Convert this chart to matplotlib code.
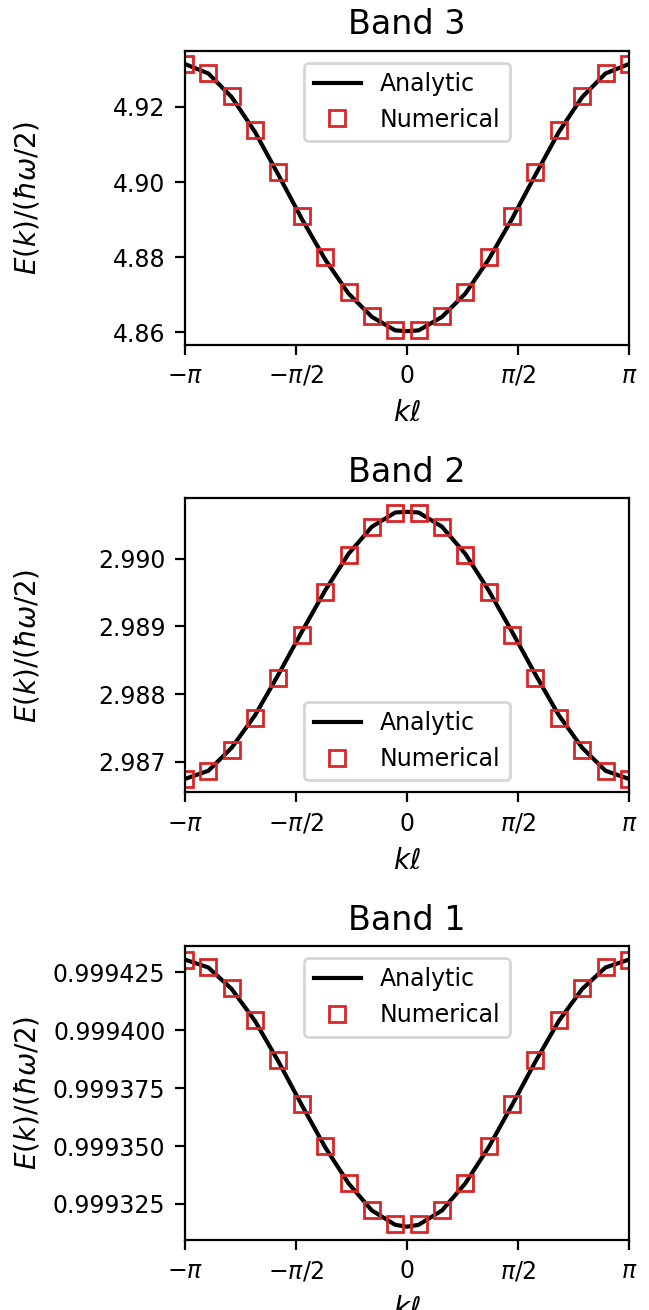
import numpy as np
import matplotlib.pyplot as plt

# k*l sample positions of the numerical points (20 points across the zone)
k_num = np.pi * np.array([-19, -17, -15, -13, -11, -9, -7, -5, -3, -1,
                          1, 3, 5, 7, 9, 11, 13, 15, 17, 19]) / 19
# analytic curve drawn through the same positions plus k=0
k_ana = np.pi * np.array([-19, -17, -15, -13, -11, -9, -7, -5, -3, -1, 0,
                          1, 3, 5, 7, 9, 11, 13, 15, 17, 19]) / 19

# Band 3 (left half mirrored)
half3_num = [4.9314, 4.9291, 4.9230, 4.9139, 4.9026, 4.8909, 4.8800, 4.8707, 4.8643, 4.8606]
half3_ana = [4.9314, 4.9289, 4.9226, 4.9133, 4.9019, 4.8902, 4.8794, 4.8703, 4.8641, 4.8605]
mid3_ana = 4.8603

# Band 2
half2_num = [2.98675, 2.98686, 2.98718, 2.98765, 2.98824, 2.98888, 2.98950, 2.99005, 2.99046, 2.99067]
half2_ana = [2.98675, 2.98687, 2.98721, 2.98769, 2.98829, 2.98892, 2.98953, 2.99007, 2.99047, 2.99068]
mid2_ana = 2.99069

# Band 1
half1_num = [0.9994305, 0.9994273, 0.9994182, 0.9994046, 0.9993871, 0.9993683, 0.9993500, 0.9993342, 0.9993224, 0.9993162]
half1_ana = [0.9994305, 0.9994271, 0.9994178, 0.9994040, 0.9993865, 0.9993677, 0.9993495, 0.9993339, 0.9993222, 0.9993160]
mid1_ana = 0.9993152


def full(half, mid=None):
    vals = list(half)
    if mid is not None:
        vals = vals + [mid]
    return np.array(vals + list(half[::-1]))


bands = [
    ("Band 3", full(half3_num), full(half3_ana, mid3_ana), "upper center"),
    ("Band 2", full(half2_num), full(half2_ana, mid2_ana), "lower center"),
    ("Band 1", full(half1_num), full(half1_ana, mid1_ana), "upper center"),
]

xticks = [-np.pi, -np.pi / 2, 0, np.pi / 2, np.pi]
xticklabels = [r"$-\pi$", r"$-\pi/2$", r"$0$", r"$\pi/2$", r"$\pi$"]

FS_ticks = 8.5
FS_label = 10
FS_title = 12
FS_legend = 8.5

fig, axes = plt.subplots(3, 1, figsize=(6.49 / 2, 13.1 / 2), dpi=200)
fig.subplots_adjust(left=0.285, right=0.969, bottom=0.0534, top=0.9613, hspace=0.524)

for ax, (title, num, ana, loc) in zip(axes, bands):
    ax.plot(k_ana, ana, color="k", linewidth=1.5, label="Analytic")
    ax.plot(k_num, num, linestyle="none", marker="s", markersize=5.5,
            markerfacecolor="none", markeredgecolor="#d62728", markeredgewidth=1.0,
            label="Numerical")
    ax.set_xlim(-np.pi, np.pi)
    ax.set_xticks(xticks)
    ax.set_xticklabels(xticklabels)
    ax.tick_params(labelsize=FS_ticks)
    ax.set_xlabel(r"$k\ell$", fontsize=FS_label)
    ax.set_ylabel(r"$E(k)/(\hbar\omega/2)$", fontsize=FS_label)
    ax.set_title(title, fontsize=FS_title)
    ax.ticklabel_format(axis="y", useOffset=False)
    ax.legend(loc=loc, fontsize=FS_legend)

fig.align_ylabels(axes)
plt.savefig("out.png", dpi=200)
